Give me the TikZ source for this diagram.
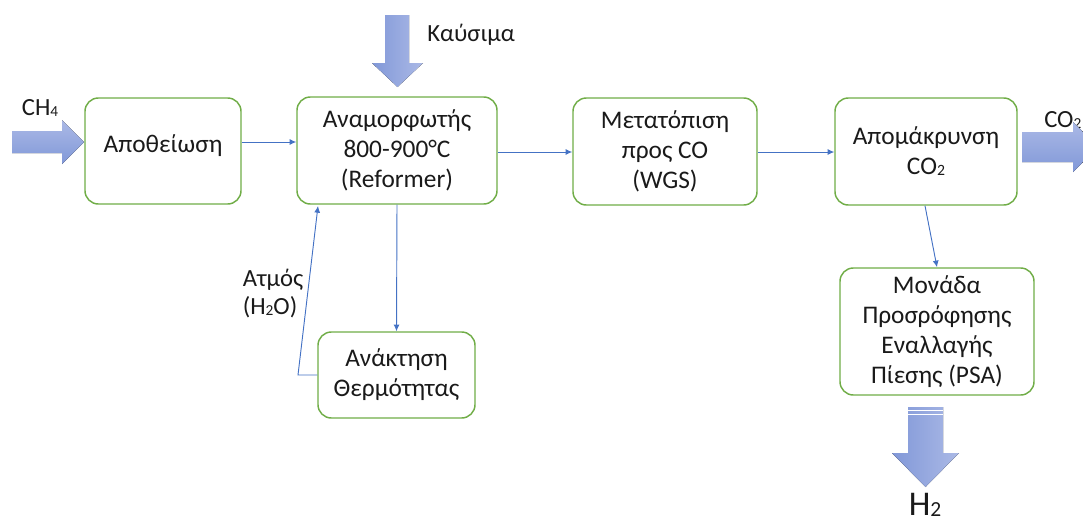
\documentclass[tikz,border=0pt]{standalone}
\usepackage{fontspec}
\setmainfont{Carlito}
\usetikzlibrary{arrows.meta}
\definecolor{boxgreen}{HTML}{70AD47}
\definecolor{linkblue}{HTML}{4472C4}
\definecolor{arrowlight}{HTML}{ABB9E6}
\definecolor{arrowdark}{HTML}{8198D8}
\definecolor{txt}{HTML}{1A1A1A}
% small digit sitting on the baseline (chemical formulas)
\newcommand\sdig[1]{\raisebox{-0.08ex}{\scalebox{0.62}{#1}}}

\begin{document}
\begin{tikzpicture}[x=0.75pt,y=-0.75pt,
  stage/.style={draw=boxgreen,line width=1.1pt,rounded corners=10pt,fill=white,
    align=center,text=txt,font=\fontsize{19}{22.5}\selectfont,inner sep=2pt},
  link/.style={draw=linkblue,line width=0.7pt,-{Latex[length=5pt,width=4.5pt]}},
  flowlabel/.style={text=txt,font=\fontsize{18.5}{21}\selectfont,inner sep=0pt},
  bigright/.style={top color=arrowlight,bottom color=arrowdark},
  bigdown/.style={left color=arrowdark,right color=arrowlight}]

\useasboundingbox (0,0) rectangle (1083,525);
\clip (0,0) rectangle (1083,525);

% process stages
\node[stage,minimum width=117pt,minimum height=79.5pt,text height=12pt,text depth=10.5pt] (des) at (163,151) {Αποθείωση};
\node[stage,minimum width=150pt,minimum height=80.25pt] (ref) at (397,150.5) {Αναμορφωτής\\800-900°C\\(Reformer)};
\node[stage,minimum width=117.75pt,minimum height=64.5pt] (ank) at (396.5,375) {Ανάκτηση\\Θερμότητας};
\node[stage,minimum width=138pt,minimum height=80.25pt] (wgs) at (665,151.5) {Μετατόπιση\\προς CO\\(WGS)};
\node[stage,minimum width=136.5pt,minimum height=80.25pt] (rem) at (926,151.5) {Απομάκρυνση\\CO\sdig{2}};
\node[stage,minimum width=145.5pt,minimum height=95.25pt] (psa) at (937,331.5) {Μονάδα\\Προσρόφησης\\Εναλλαγής\\Πίεσης (PSA)};

% stream labels
\node[flowlabel] (lch) at (40,108) {CH\sdig{4}};
\node[flowlabel] (lfuel) at (471,35) {Καύσιμα};
\node[flowlabel,align=left] (lsteam) at (273,294) {Ατμός\\(H\sdig{2}O)};
\node[flowlabel,anchor=west] (lco) at (1044,120) {CO\sdig{2}};
\node[text=txt,font=\fontsize{26}{30}\selectfont,inner sep=0pt] (lh) at (925,505) {H\sdig{2}};

% thin connectors between stages
\draw[link] (des.east |- 0,142) -- (ref.west |- 0,142);
\draw[link] (ref.east |- 0,152) -- (wgs.west |- 0,152);
\draw[link] (wgs.east |- 0,152) -- (rem.west |- 0,152);
\draw[link] (ref.south) -- (ank.north);
\coordinate (bend) at (298,375);
\coordinate (steamin) at (318,206);
\draw[link] (ank.west) -- (bend) -- (steamin);
\draw[link] (rem.south -| 925,0) -- (psa.north -| 937,0);

% block arrows for feeds and products
\fill[bigright] (12,131) -- (62,131) -- (62,120) -- (84,142) -- (62,164) -- (62,153) -- (12,153) -- cycle;
\fill[bigdown] (385,15) -- (409,15) -- (409,63) -- (423,63) -- (397.5,87) -- (372,63) -- (385,63) -- cycle;
\fill[bigright] (1022,132) -- (1073,132) -- (1073,122) -- (1098,147) -- (1073,172) -- (1073,162) -- (1022,162) -- cycle;
\fill[bigdown] (908,407) -- (943,407) -- (943,453) -- (959,453) -- (925.5,487) -- (892,453) -- (908,453) -- cycle;
\draw[white,line width=0.6pt] (908,410.5) -- (943,410.5) (908,414.5) -- (943,414.5);

\end{tikzpicture}
\end{document}
